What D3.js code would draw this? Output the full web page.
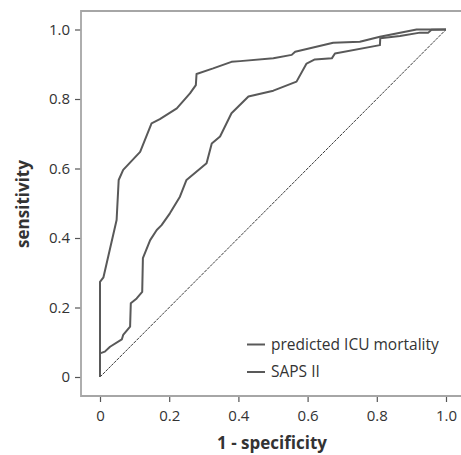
<!DOCTYPE html>
<html>
<head>
<meta charset="utf-8">
<script src="https://cdn.jsdelivr.net/npm/d3@7"></script>
<style>
  body { margin: 0; background: #fff; }
  text { font-family: "Open Sans", "Noto Sans", sans-serif; fill: #333; }
</style>
</head>
<body>
<div id="chart"></div>
<script>
// ROC curves
var icuFpr  = [0, 0, 0.01, 0.048, 0.054, 0.067, 0.116, 0.149, 0.173, 0.222, 0.26, 0.277, 0.279, 0.327, 0.38, 0.405, 0.501, 0.554, 0.564, 0.674, 0.751, 0.809, 0.915, 1];
var icuTpr  = [0, 0.274, 0.287, 0.452, 0.567, 0.596, 0.648, 0.73, 0.742, 0.773, 0.816, 0.84, 0.872, 0.888, 0.907, 0.909, 0.917, 0.927, 0.936, 0.962, 0.965, 0.979, 1, 1];
var sapsFpr = [0, 0, 0.014, 0.029, 0.063, 0.067, 0.087, 0.089, 0.106, 0.122, 0.124, 0.145, 0.164, 0.178, 0.202, 0.231, 0.25, 0.308, 0.323, 0.347, 0.38, 0.429, 0.501, 0.568, 0.597, 0.621, 0.67, 0.679, 0.809, 0.81, 0.867, 0.925, 0.949, 0.958, 1];
var sapsTpr = [0, 0.068, 0.073, 0.087, 0.108, 0.121, 0.145, 0.212, 0.226, 0.245, 0.342, 0.394, 0.423, 0.437, 0.471, 0.519, 0.567, 0.615, 0.672, 0.692, 0.759, 0.807, 0.824, 0.85, 0.902, 0.914, 0.917, 0.931, 0.955, 0.975, 0.981, 0.991, 0.991, 0.999, 1];
var tickVals = [0, 0.2, 0.4, 0.6, 0.8, 1.0];
var seriesNames = ["predicted ICU mortality", "SAPS II"];

var svgWidth = 461, svgHeight = 455;

var svg = d3.select("#chart").append("svg")
    .attr("width", svgWidth)
    .attr("height", svgHeight);

// scales: value 0..1 onto the inner plot
var x = d3.scaleLinear().domain([0, 1]).range([100, 446]);
var y = d3.scaleLinear().domain([0, 1]).range([377, 29.5]);

var frameLeft = 81, frameTop = 11, frameBottom = 396, frameRight = 461;

var fmt = function(d) { return d === 0 ? "0" : d3.format(".1f")(d); };

// x axis
var xAxis = svg.append("g")
    .attr("transform", `translate(0, ${frameBottom})`)
    .call(d3.axisBottom(x).tickValues(tickVals).tickFormat(fmt).tickSize(6).tickSizeOuter(0));
xAxis.select(".domain").remove();
xAxis.selectAll("line").attr("stroke", "#555").attr("stroke-width", 1.2);
xAxis.selectAll("text").attr("font-size", 15).attr("dy", "1.05em").attr("fill", "#333");

// y axis
var yAxis = svg.append("g")
    .attr("transform", `translate(${frameLeft}, 0)`)
    .call(d3.axisLeft(y).tickValues(tickVals).tickFormat(fmt).tickSize(6).tickSizeOuter(0));
yAxis.select(".domain").remove();
yAxis.selectAll("line").attr("stroke", "#555").attr("stroke-width", 1.2);
yAxis.selectAll("text").attr("font-size", 15).attr("x", -11).attr("fill", "#333");

// frame (left, top, bottom)
svg.append("path")
    .attr("d", `M${frameRight},${frameTop}H${frameLeft}V${frameBottom}H${frameRight}`)
    .attr("fill", "none")
    .attr("stroke", "#a6a6a6")
    .attr("stroke-width", 1.8);

// reference diagonal
svg.append("line")
    .attr("x1", x(0)).attr("y1", y(0))
    .attr("x2", x(1)).attr("y2", y(1))
    .attr("stroke", "#222")
    .attr("stroke-width", 0.9)
    .attr("stroke-dasharray", "3,1");

var line = d3.line()
    .x(d => x(d[0]))
    .y(d => y(d[1]));

var icuData = icuFpr.map((v, i) => [v, icuTpr[i]]);
var sapsData = sapsFpr.map((v, i) => [v, sapsTpr[i]]);

[sapsData, icuData].forEach(function(dat) {
    svg.append("path")
        .datum(dat)
        .attr("d", line)
        .attr("fill", "none")
        .attr("stroke", "#595959")
        .attr("stroke-width", 2)
        .attr("stroke-linejoin", "round");
});

// legend
var legend = svg.append("g");
seriesNames.forEach(function(name, i) {
    var ly = 344.5 + i * 27.5;
    legend.append("line")
        .attr("x1", 247).attr("x2", 265)
        .attr("y1", ly).attr("y2", ly)
        .attr("stroke", "#595959").attr("stroke-width", 2);
    legend.append("text")
        .attr("x", 271).attr("y", ly + 5)
        .attr("font-size", 15.5)
        .text(name);
});

// axis titles
svg.append("text")
    .attr("x", 272).attr("y", 449)
    .attr("text-anchor", "middle")
    .attr("font-size", 17)
    .attr("font-weight", "bold")
    .text("1 - specificity");

svg.append("text")
    .attr("transform", "rotate(-90)")
    .attr("x", -204).attr("y", 29)
    .attr("text-anchor", "middle")
    .attr("font-size", 17)
    .attr("font-weight", "bold")
    .text("sensitivity");
</script>
</body>
</html>
